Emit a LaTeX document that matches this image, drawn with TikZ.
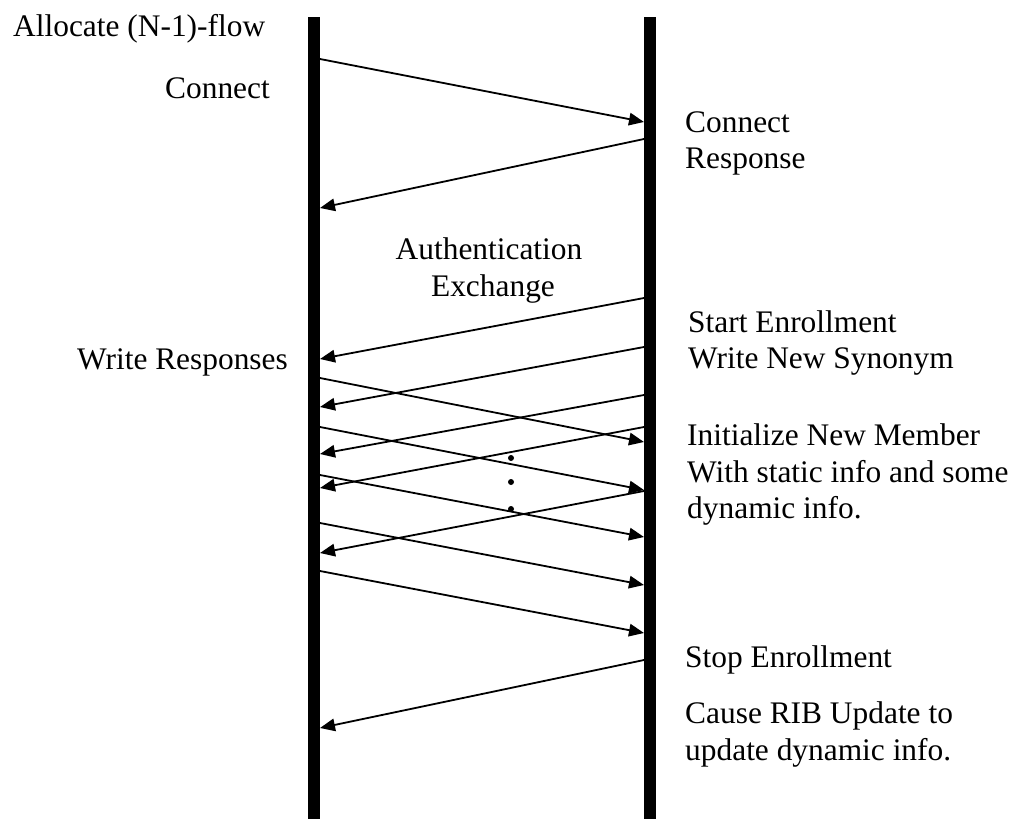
\documentclass[tikz,border=0pt]{standalone}
\usepackage{fontspec}
\setmainfont{Liberation Serif}
\usetikzlibrary{arrows.meta}
\begin{document}
\begin{tikzpicture}[x=1pt,y=-1pt,
  lifeline/.style={line width=11.5pt},
  msg/.style={line width=1.8pt,-{Triangle[length=15pt,width=12.5pt]}},
  lbl/.style={anchor=base west,inner sep=0pt,font=\fontsize{31.4}{36.5}\selectfont},
  clbl/.style={lbl,anchor=base},
  dot/.style={circle,fill,inner sep=0pt,minimum size=6pt}]
\useasboundingbox (0,0) rectangle (1017,819);

% the two lifelines
\draw[lifeline] (314,17) -- (314,819);
\draw[lifeline] (650,17) -- (650,819);

% message end points on the left lifeline
\coordinate (L1) at (320,59);
\coordinate (L2) at (320,208);
\coordinate (L3) at (320,359);
\coordinate (La) at (320,378);
\coordinate (L4) at (320,407);
\coordinate (Lb) at (320,427);
\coordinate (L5) at (320,454);
\coordinate (Lc) at (320,475);
\coordinate (L6) at (320,488);
\coordinate (Ld) at (320,523);
\coordinate (L7) at (320,553);
\coordinate (Le) at (320,571);
\coordinate (L8) at (320,728);

% message end points on the right lifeline
\coordinate (R1) at (644,122);
\coordinate (R2) at (644,139);
\coordinate (R3) at (644,298);
\coordinate (R4) at (644,347);
\coordinate (R5) at (644,395);
\coordinate (R6) at (644,427);
\coordinate (Ra) at (644,442);
\coordinate (Rb) at (644,490);
\coordinate (R7) at (644,491);
\coordinate (Rc) at (644,537);
\coordinate (Rd) at (644,585);
\coordinate (Re) at (644,633);
\coordinate (R8) at (644,660);

% connect / response
\draw[msg] (L1) -- (R1);
\draw[msg] (R2) -- (L2);

% enrollment exchange
\draw[msg] (R3) -- (L3);
\draw[msg] (R4) -- (L4);
\draw[msg] (R5) -- (L5);
\draw[msg] (R6) -- (L6);
\draw[msg] (R7) -- (L7);
\draw[msg] (La) -- (Ra);
\draw[msg] (Lb) -- (Rb);
\draw[msg] (Lc) -- (Rc);
\draw[msg] (Ld) -- (Rd);
\draw[msg] (Le) -- (Re);

% stop enrollment
\draw[msg] (R8) -- (L8);

% ellipsis
\node[dot] (d1) at (511,458) {};
\node[dot] (d2) at (511,482) {};
\node[dot] (d3) at (511,509) {};

% labels
\node[lbl] (alloc) at (13,36) {Allocate (N-1)-flow};
\node[lbl] (conn) at (165,98) {Connect};
\node[lbl] (connr1) at (685,132) {Connect};
\node[lbl] (connr2) at (685,168) {Response};
\node[clbl] (auth1) at (489,259) {Authentication};
\node[clbl] (auth2) at (493,296) {Exchange};
\node[lbl] (start1) at (688,332) {Start Enrollment};
\node[lbl] (start2) at (688,368) {Write New Synonym};
\node[lbl] (wresp) at (77,369) {Write Responses};
\node[lbl] (init1) at (687,445) {Initialize New Member};
\node[lbl] (init2) at (687,482) {With static info and some};
\node[lbl] (init3) at (687,518) {dynamic info.};
\node[lbl] (stop) at (685,667) {Stop Enrollment};
\node[lbl] (rib1) at (685,723) {Cause RIB Update to};
\node[lbl] (rib2) at (685,760) {update dynamic info.};
\end{tikzpicture}
\end{document}
